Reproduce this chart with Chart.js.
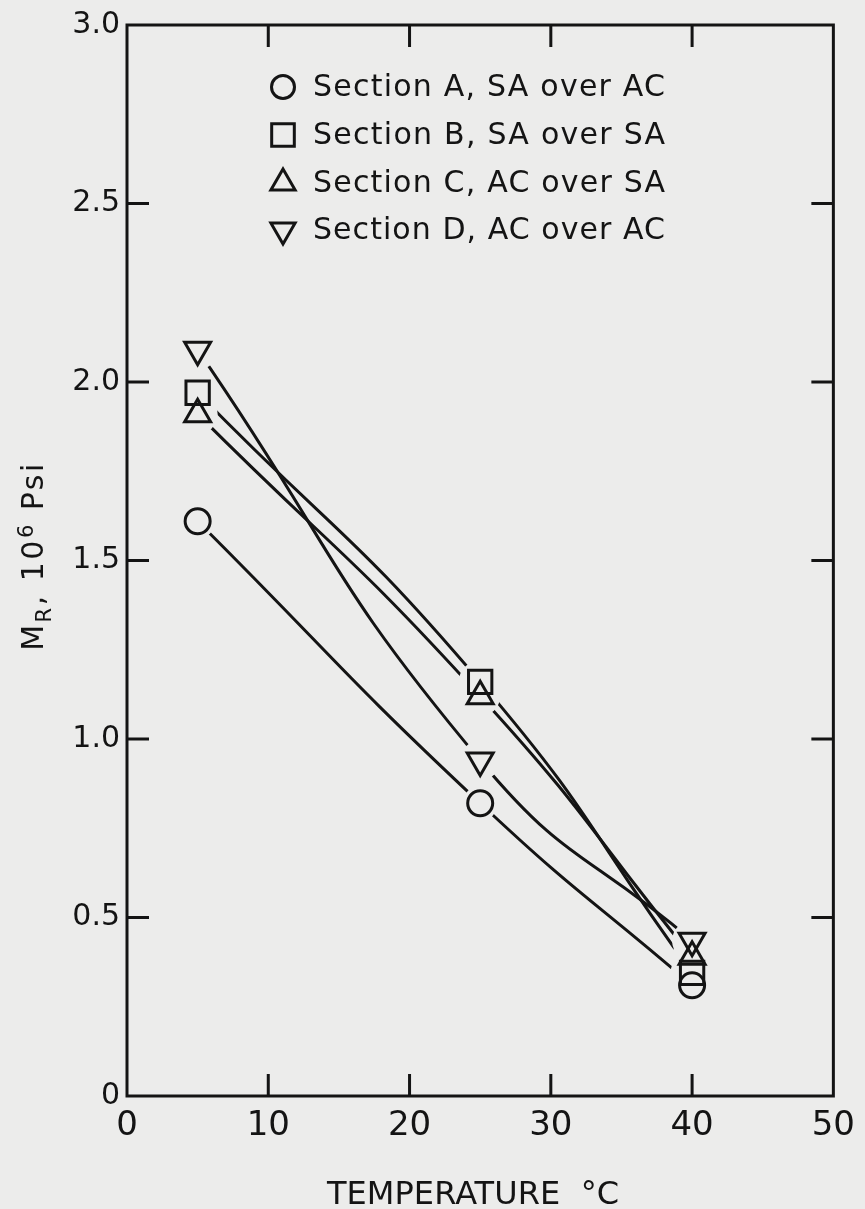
<!DOCTYPE html>
<html>
<head>
<meta charset="utf-8">
<script src="https://cdn.jsdelivr.net/npm/chart.js@4.4.0/dist/chart.umd.min.js"></script>
<style>
  html, body { margin: 0; padding: 0; background: #ececeb; }
  #wrap { width: 865px; height: 1209px; }
</style>
</head>
<body>
<div id="wrap"><canvas id="mrChart" width="865" height="1209"></canvas></div>
<script>
// data
const temps = [5, 25, 40];
const sectionA = [1.61, 0.82, 0.31];
const sectionB = [1.97, 1.16, 0.345];
const sectionC = [1.91, 1.12, 0.39];
const sectionD = [2.09, 0.94, 0.435];
const seriesLabels = [
  "Section A, SA over AC",
  "Section B, SA over SA",
  "Section C, AC over SA",
  "Section D, AC over AC"
];
const xTicks = [0, 10, 20, 30, 40, 50];
const yTicks = [0, 0.5, 1.0, 1.5, 2.0, 2.5, 3.0];

const PAPER = "#ececeb";
const INK = "#141414";
const FONT = "'DejaVu Sans', sans-serif";

const markers = [
  { pointStyle: "circle", radius: 12.5, rotation: 0 },
  { pointStyle: "rect", radius: 16.5, rotation: 0 },
  { pointStyle: "triangle", radius: 15, rotation: 0 },
  { pointStyle: "triangle", radius: 15, rotation: 180 }
];

function toPoints(ys) {
  return temps.map((t, i) => ({ x: t, y: ys[i] }));
}

const datasets = [sectionA, sectionB, sectionC, sectionD].map((ys, i) => ({
  label: seriesLabels[i],
  data: toPoints(ys),
  borderColor: INK,
  borderWidth: 3,
  tension: 0.5,
  pointStyle: markers[i].pointStyle,
  pointRadius: markers[i].radius,
  pointRotation: markers[i].rotation,
  pointBorderWidth: 3,
  pointBorderColor: INK,
  pointBackgroundColor: "rgba(0,0,0,0)"
}));

// paper background
const paper = {
  id: "paper",
  beforeDraw(chart) {
    const ctx = chart.ctx;
    ctx.save();
    ctx.fillStyle = PAPER;
    ctx.fillRect(0, 0, chart.width, chart.height);
    ctx.restore();
  }
};

// small gap between the curves and the symbols, symbols drawn again on top
const markerGap = {
  id: "markerGap",
  afterDatasetsDraw(chart) {
    const ctx = chart.ctx;
    ctx.save();
    ctx.fillStyle = PAPER;
    chart.data.datasets.forEach((ds, i) => {
      chart.getDatasetMeta(i).data.forEach(pt => {
        ctx.beginPath();
        ctx.arc(pt.x, pt.y, pt.options.radius + 5, 0, Math.PI * 2);
        ctx.fill();
      });
    });
    ctx.restore();
    chart.data.datasets.forEach((ds, i) => {
      chart.getDatasetMeta(i).data.forEach(pt => pt.draw(ctx, chart.chartArea));
    });
  }
};

// box round the plot with inward ticks
const frame = {
  id: "frame",
  afterDraw(chart) {
    const { ctx, chartArea: a, scales } = chart;
    const len = 22;
    ctx.save();
    ctx.strokeStyle = INK;
    ctx.lineWidth = 3;
    ctx.strokeRect(a.left, a.top, a.right - a.left, a.bottom - a.top);
    ctx.beginPath();
    xTicks.slice(1, -1).forEach(v => {
      const px = scales.x.getPixelForValue(v);
      ctx.moveTo(px, a.bottom); ctx.lineTo(px, a.bottom - len);
      ctx.moveTo(px, a.top); ctx.lineTo(px, a.top + len);
    });
    yTicks.slice(1, -1).forEach(v => {
      const py = scales.y.getPixelForValue(v);
      ctx.moveTo(a.left, py); ctx.lineTo(a.left + len, py);
      ctx.moveTo(a.right, py); ctx.lineTo(a.right - len, py);
    });
    ctx.stroke();
    ctx.restore();
  }
};

// spaced text helper
function spacedText(ctx, text, x, y, width) {
  ctx.letterSpacing = "0px";
  const w = ctx.measureText(text).width;
  const sp = (width - w) / (text.length - 1);
  ctx.letterSpacing = sp.toFixed(2) + "px";
  ctx.fillText(text, x, y);
  ctx.letterSpacing = "0px";
}

// legend inside the plot
const keyBox = {
  id: "keyBox",
  afterDraw(chart) {
    const ctx = chart.ctx;
    const symX = 283, textX = 313, rowY = [87, 135, 183, 230];
    const keyMarkers = [
      { pointStyle: "circle", radius: 11.5, rotation: 0 },
      { pointStyle: "rect", radius: 16, rotation: 0 },
      { pointStyle: "triangle", radius: 14, rotation: 0 },
      { pointStyle: "triangle", radius: 14, rotation: 180 }
    ];
    ctx.save();
    ctx.strokeStyle = INK;
    ctx.fillStyle = "rgba(0,0,0,0)";
    ctx.lineWidth = 3;
    seriesLabels.forEach((lab, i) => {
      Chart.helpers.drawPoint(ctx, { ...keyMarkers[i], borderWidth: 3 }, symX, rowY[i]);
    });
    ctx.fillStyle = INK;
    ctx.font = "30px " + FONT;
    ctx.textBaseline = "middle";
    ctx.textAlign = "left";
    seriesLabels.forEach((lab, i) => spacedText(ctx, lab, textX, rowY[i] + 1, 352));
    ctx.restore();
  }
};

// axis titles
const axisTitles = {
  id: "axisTitles",
  afterDraw(chart) {
    const ctx = chart.ctx;
    ctx.save();
    ctx.fillStyle = INK;
    ctx.textBaseline = "alphabetic";
    ctx.textAlign = "left";

    // x title
    ctx.font = "32px " + FONT;
    spacedText(ctx, "TEMPERATURE  °C", 327, 1204, 292);

    // y title, rotated, with subscript R and superscript 6
    ctx.translate(43, 556);
    ctx.rotate(-Math.PI / 2);
    const parts = [
      { t: "M", size: 30, dy: 0 },
      { t: "R", size: 21, dy: 8 },
      { t: ", 10", size: 30, dy: 0 },
      { t: "6", size: 21, dy: -10 },
      { t: " Psi", size: 30, dy: 0 }
    ];
    const sp = 2.5;
    let total = 0;
    parts.forEach(p => {
      ctx.font = p.size + "px " + FONT;
      p.w = ctx.measureText(p.t).width + sp * p.t.length;
      total += p.w;
    });
    let x = -total / 2;
    ctx.letterSpacing = sp + "px";
    parts.forEach(p => {
      ctx.font = p.size + "px " + FONT;
      ctx.fillText(p.t, x, p.dy);
      x += p.w;
    });
    ctx.restore();
  }
};

new Chart(document.getElementById("mrChart"), {
  type: "line",
  data: { datasets },
  options: {
    responsive: false,
    animation: false,
    devicePixelRatio: 1,
    layout: { padding: { top: 25, right: 27, left: 0, bottom: 0 } },
    plugins: { legend: { display: false }, tooltip: { enabled: false } },
    scales: {
      x: {
        type: "linear",
        min: 0,
        max: 50,
        afterBuildTicks: s => { s.ticks = xTicks.map(v => ({ value: v })); },
        afterFit: s => { s.height = 113; },
        grid: { display: false, drawTicks: false },
        border: { display: false },
        ticks: { color: INK, font: { family: FONT, size: 34 }, padding: 10, maxRotation: 0 }
      },
      y: {
        type: "linear",
        min: 0,
        max: 3,
        afterBuildTicks: s => { s.ticks = yTicks.map(v => ({ value: v })); },
        afterFit: s => { s.width = 127; },
        grid: { display: false, drawTicks: false },
        border: { display: false },
        ticks: {
          color: INK,
          font: { family: FONT, size: 30 },
          padding: 7,
          callback: v => (v === 0 ? "0" : v.toFixed(1))
        }
      }
    }
  },
  plugins: [paper, markerGap, frame, keyBox, axisTitles]
});
</script>
</body>
</html>
